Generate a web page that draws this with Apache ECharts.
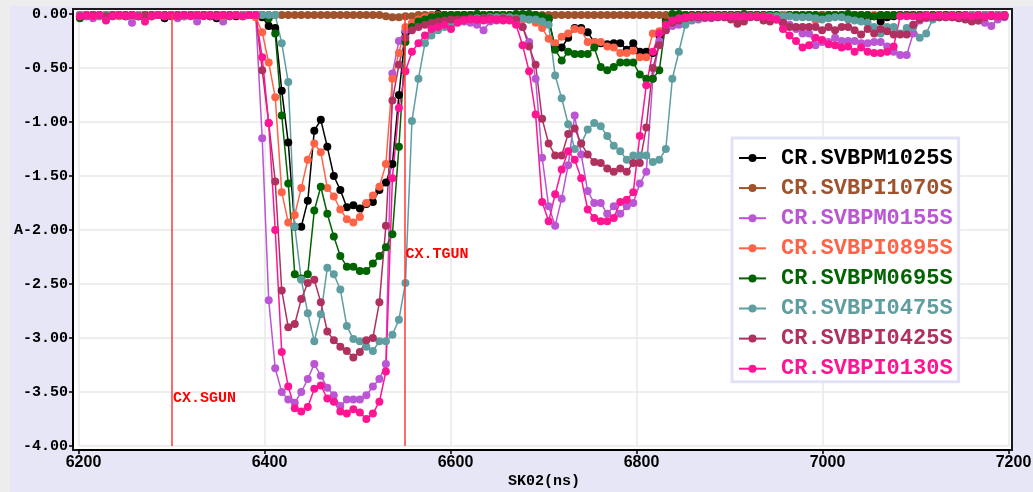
<!DOCTYPE html>
<html>
<head>
<meta charset="utf-8">
<title>SK02 BPM signals</title>
<script src="https://cdn.jsdelivr.net/npm/echarts@6/dist/echarts.min.js"></script>
<style>
  html, body { margin: 0; padding: 0; background: #EDEDED; }
  #chart { width: 1033px; height: 492px; }
</style>
</head>
<body>
<div id="chart"></div>
<script>
// Sample times (ns), shared by every channel
const times = [
  6201, 6208, 6215, 6222, 6229, 6236, 6243, 6250, 6257, 6264,
  6271, 6278, 6285, 6292, 6299, 6306, 6313, 6320, 6327, 6334,
  6341, 6348, 6355, 6362, 6369, 6376, 6383, 6390, 6397, 6404,
  6411, 6418, 6425, 6432, 6439, 6446, 6453, 6460, 6467, 6474,
  6481, 6488, 6495, 6502, 6509, 6516, 6523, 6530, 6537, 6544,
  6551, 6558, 6565, 6572, 6579, 6586, 6593, 6600, 6607, 6614,
  6621, 6628, 6635, 6642, 6649, 6656, 6663, 6670, 6677, 6684,
  6691, 6698, 6705, 6712, 6719, 6726, 6733, 6740, 6747, 6754,
  6761, 6768, 6775, 6782, 6789, 6796, 6803, 6810, 6817, 6824,
  6831, 6838, 6845, 6852, 6859, 6866, 6873, 6880, 6887, 6894,
  6901, 6908, 6915, 6922, 6929, 6936, 6943, 6950, 6957, 6964,
  6971, 6978, 6985, 6992, 6999, 7006, 7013, 7020, 7027, 7034,
  7041, 7048, 7055, 7062, 7069, 7076, 7083, 7090, 7097, 7104,
  7111, 7118, 7125, 7132, 7139, 7146, 7153, 7160, 7167, 7174,
  7181, 7188, 7195
];

const svbpm1025 = [
  -0.01,-0.02,-0.01,-0.01,-0.02,-0.01,-0.01,-0.02,-0.01,-0.01,
  -0.01,-0.02,-0.01,-0.04,-0.01,-0.02,-0.01,-0.01,-0.02,-0.01,
  -0.02,-0.04,-0.01,-0.01,-0.02,-0.01,-0.01,-0.01,-0.03,-0.11,
  -0.13,-0.71,-1.19,-1.97,-1.97,-1.73,-1.08,-0.98,-1.23,-1.50,
  -1.63,-1.79,-1.77,-1.80,-1.76,-1.74,-1.63,-1.56,-1.39,-0.75,
  -0.17,-0.10,-0.06,-0.03,-0.02,0.00,-0.01,-0.02,-0.01,-0.01,
  -0.01,-0.01,-0.02,-0.01,-0.01,-0.01,-0.02,-0.01,-0.01,-0.02,
  -0.02,-0.03,-0.05,-0.31,-0.31,-0.22,-0.13,-0.13,-0.17,-0.26,
  -0.27,-0.28,-0.27,-0.27,-0.33,-0.27,-0.35,-0.35,-0.36,-0.20,
  -0.06,-0.02,-0.01,-0.01,-0.01,-0.02,-0.01,-0.01,-0.01,-0.01,
  -0.01,-0.01,-0.02,-0.01,-0.01,-0.01,-0.01,-0.02,-0.01,-0.01,
  -0.01,-0.01,-0.01,-0.02,-0.01,-0.01,-0.01,-0.01,-0.02,-0.02,
  -0.02,-0.04,-0.02,-0.07,-0.03,-0.02,-0.01,-0.01,-0.01,-0.01,
  -0.01,-0.01,-0.01,-0.01,-0.01,-0.02,-0.02,-0.03,-0.01,-0.01,
  -0.01,-0.01,-0.01
];

const svbpi1070 = [
  -0.01,-0.01,-0.01,-0.01,-0.01,-0.01,-0.01,-0.01,-0.01,-0.01,
  -0.01,-0.01,-0.01,-0.01,-0.01,-0.01,-0.01,-0.01,-0.01,-0.01,
  -0.01,-0.01,-0.01,-0.01,-0.01,-0.01,-0.01,-0.01,-0.01,-0.01,
  -0.01,-0.01,-0.01,-0.01,-0.01,-0.01,-0.01,-0.01,-0.01,-0.01,
  -0.01,-0.01,-0.01,-0.01,-0.01,-0.01,-0.01,-0.02,-0.03,-0.03,
  -0.02,-0.02,-0.01,-0.01,-0.01,-0.01,-0.01,-0.01,-0.01,-0.01,
  -0.01,-0.01,-0.01,-0.01,-0.01,-0.01,-0.01,-0.01,-0.01,-0.01,
  -0.01,-0.01,-0.01,-0.01,-0.01,-0.01,-0.01,-0.01,-0.01,-0.01,
  -0.01,-0.01,-0.01,-0.01,-0.01,-0.01,-0.01,-0.01,-0.01,-0.01,
  -0.01,-0.01,-0.01,-0.01,-0.01,-0.01,-0.01,-0.01,-0.01,-0.01,
  -0.01,-0.01,-0.01,-0.01,-0.01,-0.01,-0.01,-0.01,-0.01,-0.01,
  -0.01,-0.01,-0.01,-0.01,-0.01,-0.01,-0.01,-0.01,-0.01,-0.01,
  -0.01,-0.01,-0.01,-0.01,-0.01,-0.01,-0.01,-0.01,-0.01,-0.01,
  -0.01,-0.01,-0.01,-0.01,-0.01,-0.01,-0.01,-0.01,-0.01,-0.01,
  -0.01,-0.01,-0.01
];

const svbpm0155 = [
  -0.01,-0.02,-0.04,-0.01,-0.01,-0.02,-0.01,-0.01,-0.08,-0.01,
  -0.02,-0.01,-0.01,-0.02,-0.01,-0.04,-0.01,-0.01,-0.07,-0.01,
  -0.01,-0.02,-0.07,-0.01,-0.01,-0.02,-0.01,-0.01,-1.15,-2.65,
  -3.28,-3.50,-3.57,-3.60,-3.50,-3.38,-3.24,-3.35,-3.46,-3.53,
  -3.63,-3.57,-3.57,-3.57,-3.53,-3.45,-3.38,-3.24,-0.55,-0.25,
  -0.15,-0.12,-0.10,-0.08,-0.07,-0.08,-0.06,-0.09,-0.06,-0.07,
  -0.08,-0.10,-0.15,-0.07,-0.06,-0.05,-0.05,-0.08,-0.12,-0.26,
  -0.60,-1.33,-1.78,-1.96,-1.71,-1.40,-0.94,-1.30,-1.64,-1.75,
  -1.75,-1.85,-1.78,-1.85,-1.78,-1.75,-1.57,-1.46,-0.60,-0.25,
  -0.15,-0.11,-0.10,-0.08,-0.06,-0.05,-0.04,-0.04,-0.03,-0.03,
  -0.03,-0.03,-0.03,-0.02,-0.02,-0.03,-0.03,-0.04,-0.06,-0.10,
  -0.14,-0.18,-0.18,-0.29,-0.26,-0.26,-0.22,-0.25,-0.25,-0.25,
  -0.27,-0.27,-0.26,-0.26,-0.30,-0.35,-0.38,-0.38,-0.18,-0.06,
  -0.04,-0.03,-0.03,-0.03,-0.03,-0.04,-0.04,-0.05,-0.06,-0.08,
  -0.11,-0.05,-0.03
];

const svbpi0895 = [
  -0.01,-0.01,-0.02,-0.01,-0.01,-0.01,-0.02,-0.01,-0.01,-0.01,
  -0.01,-0.02,-0.01,-0.01,-0.01,-0.01,-0.02,-0.01,-0.01,-0.01,
  -0.01,-0.01,-0.02,-0.01,-0.01,-0.01,-0.01,-0.03,-0.17,-0.45,
  -0.77,-1.65,-1.93,-1.86,-1.61,-1.35,-1.20,-1.28,-1.61,-1.69,
  -1.81,-1.90,-1.93,-1.88,-1.75,-1.68,-1.60,-1.39,-0.60,-0.36,
  -0.12,-0.08,-0.05,-0.03,-0.02,-0.02,-0.01,-0.01,-0.01,-0.02,
  -0.01,-0.01,-0.01,-0.02,-0.01,-0.01,-0.02,-0.03,-0.05,-0.05,
  -0.08,-0.13,-0.23,-0.27,-0.21,-0.18,-0.14,-0.15,-0.26,-0.26,
  -0.26,-0.30,-0.31,-0.36,-0.36,-0.34,-0.40,-0.40,-0.18,-0.16,
  -0.08,-0.04,-0.02,-0.01,-0.01,-0.01,-0.01,-0.01,-0.01,-0.01,
  -0.01,-0.01,-0.01,-0.01,-0.01,-0.01,-0.01,-0.01,-0.01,-0.01,
  -0.01,-0.01,-0.02,-0.06,-0.02,-0.01,-0.01,-0.01,-0.01,-0.01,
  -0.01,-0.01,-0.01,-0.01,-0.01,-0.01,-0.01,-0.01,-0.01,-0.01,
  -0.01,-0.01,-0.01,-0.01,-0.01,-0.01,-0.01,-0.01,-0.01,-0.01,
  -0.01,-0.01,-0.01
];

const svbpm0695 = [
  -0.04,-0.01,-0.01,-0.02,-0.01,-0.01,-0.01,-0.01,-0.01,-0.02,
  -0.01,-0.01,-0.01,-0.01,-0.01,-0.01,-0.02,-0.01,-0.01,-0.01,
  -0.01,-0.01,-0.01,-0.02,-0.01,-0.01,-0.01,-0.01,-0.01,-0.04,
  -0.18,-0.94,-1.57,-2.41,-2.45,-2.41,-1.82,-1.60,-1.85,-2.06,
  -2.24,-2.34,-2.34,-2.38,-2.38,-2.31,-2.24,-2.16,-2.04,-1.23,
  -0.26,-0.12,-0.07,-0.05,-0.03,-0.02,-0.01,-0.01,-0.01,-0.01,
  -0.01,0.00,-0.01,-0.01,-0.01,-0.01,-0.01,0.00,0.00,0.00,
  -0.01,-0.02,-0.04,-0.33,-0.43,-0.35,-0.37,-0.37,-0.37,-0.31,
  -0.49,-0.52,-0.49,-0.45,-0.45,-0.45,-0.56,-0.60,-0.60,-0.52,
  -0.08,0.00,0.00,-0.01,-0.01,-0.01,-0.01,-0.01,-0.01,-0.01,
  -0.01,-0.01,0.00,-0.01,-0.01,-0.01,-0.01,-0.01,-0.02,-0.01,
  -0.01,-0.01,-0.01,-0.01,-0.02,-0.01,-0.01,-0.01,0.00,-0.01,
  -0.01,-0.01,-0.02,-0.01,-0.01,-0.01,-0.01,-0.01,-0.01,-0.01,
  -0.01,-0.01,-0.01,-0.01,-0.01,-0.01,-0.01,-0.01,-0.01,-0.01,
  -0.01,-0.01,-0.01
];

const svbpi0475 = [
  -0.01,-0.01,-0.01,-0.02,-0.01,-0.01,-0.01,-0.01,-0.02,-0.01,
  -0.01,-0.01,-0.01,-0.01,-0.01,-0.01,-0.02,-0.01,-0.01,-0.01,
  -0.01,-0.02,-0.01,-0.01,-0.01,-0.01,-0.01,-0.01,-0.01,-0.01,
  -0.01,-0.27,-0.63,-1.97,-2.46,-2.77,-3.03,-2.78,-2.35,-2.41,
  -2.55,-2.89,-3.01,-3.03,-3.08,-3.12,-3.03,-3.03,-2.97,-2.83,
  -2.49,-0.99,-0.60,-0.27,-0.20,-0.15,-0.12,-0.09,-0.07,-0.06,
  -0.05,-0.04,-0.04,-0.03,-0.03,-0.03,-0.03,-0.04,-0.04,-0.05,
  -0.05,-0.07,-0.10,-0.57,-0.78,-1.02,-1.25,-1.20,-1.07,-1.01,
  -1.04,-1.13,-1.22,-1.27,-1.35,-1.31,-1.31,-1.31,-1.37,-1.35,
  -1.25,-0.60,-0.35,-0.10,-0.05,-0.04,-0.03,-0.02,-0.02,-0.02,
  -0.02,-0.02,-0.02,-0.02,-0.02,-0.02,-0.02,-0.02,-0.02,-0.02,
  -0.03,-0.03,-0.03,-0.04,-0.05,-0.04,-0.03,-0.03,-0.05,-0.06,
  -0.07,-0.08,-0.12,-0.18,-0.12,-0.12,-0.18,-0.13,-0.12,-0.22,
  -0.18,-0.05,-0.03,-0.02,-0.02,-0.02,-0.01,-0.01,-0.01,-0.01,
  -0.01,-0.01,-0.01
];

const svbpi0425 = [
  -0.02,-0.01,-0.01,-0.01,-0.02,-0.01,-0.01,-0.01,-0.01,-0.02,
  -0.01,-0.01,-0.01,-0.01,-0.02,-0.01,-0.01,-0.01,-0.01,-0.01,
  -0.02,-0.01,-0.01,-0.01,-0.01,-0.02,-0.01,-0.01,-0.52,-1.01,
  -1.55,-2.56,-2.90,-2.87,-2.64,-2.49,-2.46,-2.67,-2.94,-3.02,
  -3.08,-3.12,-3.18,-3.13,-3.02,-3.00,-2.67,-1.96,-0.80,-0.47,
  -0.22,-0.15,-0.12,-0.10,-0.08,-0.07,-0.06,-0.05,-0.05,-0.05,
  -0.04,-0.05,-0.04,-0.04,-0.05,-0.04,-0.05,-0.05,-0.12,-0.30,
  -0.47,-0.97,-1.20,-1.31,-1.31,-1.11,-1.06,-1.20,-1.30,-1.37,
  -1.38,-1.43,-1.46,-1.43,-1.46,-1.38,-1.38,-1.05,-0.50,-0.29,
  -0.15,-0.08,-0.06,-0.04,-0.03,-0.03,-0.03,-0.03,-0.03,-0.03,
  -0.05,-0.09,-0.07,-0.03,-0.03,-0.06,-0.07,-0.05,-0.08,-0.12,
  -0.12,-0.12,-0.12,-0.12,-0.15,-0.12,-0.15,-0.12,-0.12,-0.15,
  -0.19,-0.14,-0.18,-0.14,-0.16,-0.19,-0.19,-0.19,-0.10,-0.05,
  -0.03,-0.03,-0.03,-0.03,-0.03,-0.04,-0.05,-0.07,-0.06,-0.03,
  -0.02,-0.02,-0.02
];

const svbpi0130 = [
  -0.02,-0.01,-0.02,-0.01,-0.06,-0.02,-0.01,-0.02,-0.01,-0.02,
  -0.07,-0.02,-0.01,-0.02,-0.01,-0.02,-0.01,-0.02,-0.01,-0.02,
  -0.01,-0.02,-0.01,-0.02,-0.01,-0.02,-0.01,-0.01,-0.40,-1.01,
  -2.00,-3.13,-3.45,-3.65,-3.68,-3.64,-3.47,-3.44,-3.56,-3.59,
  -3.68,-3.70,-3.66,-3.69,-3.75,-3.70,-3.59,-3.31,-1.52,-0.87,
  -0.53,-0.35,-0.27,-0.20,-0.14,-0.12,-0.10,-0.14,-0.08,-0.06,
  -0.05,-0.05,-0.06,-0.05,-0.05,-0.06,-0.06,-0.10,-0.29,-0.53,
  -0.93,-1.74,-1.92,-1.67,-1.44,-1.27,-1.35,-1.52,-1.81,-1.89,
  -1.92,-1.92,-1.89,-1.74,-1.72,-1.65,-1.13,-0.66,-0.35,-0.18,
  -0.10,-0.06,-0.04,-0.03,-0.02,-0.02,-0.02,-0.02,-0.02,-0.02,
  -0.02,-0.02,-0.02,-0.02,-0.02,-0.02,-0.03,-0.05,-0.14,-0.20,
  -0.25,-0.31,-0.29,-0.22,-0.24,-0.28,-0.29,-0.31,-0.30,-0.35,
  -0.31,-0.35,-0.36,-0.36,-0.35,-0.30,-0.02,-0.02,-0.02,-0.02,
  -0.01,-0.02,-0.01,-0.02,-0.01,-0.02,-0.01,-0.02,-0.01,-0.02,
  -0.01,-0.02,-0.01
];

const channelNames = [
  'CR.SVBPM1025S', 'CR.SVBPI1070S', 'CR.SVBPM0155S', 'CR.SVBPI0895S',
  'CR.SVBPM0695S', 'CR.SVBPI0475S', 'CR.SVBPI0425S', 'CR.SVBPI0130S'
];
const channelValues = [
  svbpm1025, svbpi1070, svbpm0155, svbpi0895,
  svbpm0695, svbpi0475, svbpi0425, svbpi0130
];

// Timing markers and the level their captions sit at
const markerNames = ['CX.SGUN', 'CX.TGUN'];
const markerTimes = [6300, 6550];
const markerLabelLevels = [-3.556, -2.22];

const xTicks = { min: 6200, max: 7200, step: 200 };
const yTicks = { min: -4, max: 0, step: 0.5 };

// ---- styling ----
const palette = ['#000000', '#A0522D', '#BA55D3', '#FF6347',
                 '#006400', '#5F9EA0', '#B03060', '#FF1493'];
const markerColor = '#FF3A3A';
const monoFont = '"Liberation Mono", "DejaVu Sans Mono", monospace';
const sansFont = '"Liberation Sans", Arial, sans-serif';

const series = channelNames.map((name, k) => ({
  type: 'line',
  name: name,
  data: times.map((t, i) => [t, channelValues[k][i]]),
  symbol: 'circle',
  symbolSize: 8,
  showSymbol: true,
  clip: false,
  lineStyle: { color: palette[k], width: 1.5 },
  itemStyle: { color: palette[k], borderWidth: 0 },
  emphasis: { disabled: true },
  animation: false
}));

// Marker lines and their captions ride on the last series so they sit on top
series[series.length - 1].markLine = {
  silent: true,
  symbol: ['none', 'none'],
  lineStyle: { color: markerColor, width: 1.5, type: 'solid' },
  label: { show: false },
  data: markerTimes.map(t => ({ xAxis: t }))
};
series[series.length - 1].markPoint = {
  silent: true,
  symbol: 'circle',
  symbolSize: 0,
  data: markerNames.map((n, k) => ({ name: n, coord: [markerTimes[k], markerLabelLevels[k]] })),
  label: {
    show: true,
    position: 'right',
    distance: 1,
    formatter: '{b}',
    color: '#FF0000',
    fontFamily: monoFont,
    fontWeight: 'bold',
    fontSize: 15
  }
};

const chart = echarts.init(document.getElementById('chart'), null, { renderer: 'canvas' });

chart.setOption({
  animation: false,
  backgroundColor: '#E6E6F6',
  graphic: [
    { type: 'rect', shape: { x: 0, y: 0, width: 10, height: 492 }, style: { fill: '#EDEDED' }, silent: true, z: -10 },
    { type: 'rect', shape: { x: 0, y: 0, width: 1033, height: 6 }, style: { fill: '#EDEDED' }, silent: true, z: -10 }
  ],
  grid: [
    {
      left: 79, right: 24, top: 14, bottom: 46,
      containLabel: false, outerBoundsMode: 'none'
    },
    {
      // framed plotting panel
      show: true, z: -1,
      left: 73, right: 21, top: 9, bottom: 42,
      backgroundColor: '#FFFFFF',
      borderColor: '#1A1A1A', borderWidth: 2,
      containLabel: false, outerBoundsMode: 'none'
    }
  ],
  legend: {
    orient: 'vertical',
    left: 732,
    top: 138,
    padding: [9, 6, 2, 6],
    itemGap: 8.1,
    itemWidth: 27,
    itemHeight: 10,
    backgroundColor: '#FFFFFF',
    borderColor: '#E2E2F6',
    borderWidth: 3,
    selectedMode: false,
    data: channelNames.map((n, k) => ({ name: n, textStyle: { color: palette[k] } })),
    textStyle: {
      fontFamily: monoFont,
      fontWeight: 'bold',
      fontSize: 22,
      lineHeight: 22,
      padding: [0, 0, 0, 10]
    }
  },
  xAxis: [
    {
      type: 'value',
      gridIndex: 0,
      min: xTicks.min, max: xTicks.max, interval: xTicks.step,
      offset: 4,
      name: 'SK02(ns)',
      nameLocation: 'middle',
      nameGap: 24,
      nameMoveOverlap: false,
      nameTextStyle: { color: '#000', fontFamily: monoFont, fontWeight: 'bold', fontSize: 15 },
      axisLine: { show: true, onZero: false, lineStyle: { color: '#000', width: 2 } },
      axisTick: { show: true, length: 4, lineStyle: { color: '#000', width: 1.5 } },
      axisLabel: {
        color: '#000', fontFamily: sansFont, fontWeight: 'bold', fontSize: 16,
        margin: 5, padding: [0, 0, 0, 9], hideOverlap: false,
        formatter: v => String(v)
      },
      splitLine: { show: true, lineStyle: { color: '#E8E8E8', width: 1.5 } },
      minorTick: { show: false }
    },
    { type: 'value', gridIndex: 1, show: false, min: 0, max: 1 }
  ],
  yAxis: [
    {
      type: 'value',
      gridIndex: 0,
      min: yTicks.min, max: yTicks.max, interval: yTicks.step,
      offset: 6,
      name: 'A',
      nameLocation: 'middle',
      nameRotate: 0,
      nameGap: 50,
      nameMoveOverlap: false,
      nameTextStyle: { color: '#000', fontFamily: monoFont, fontWeight: 'bold', fontSize: 15 },
      axisLine: { show: true, onZero: false, lineStyle: { color: '#000', width: 2 } },
      axisTick: { show: true, length: 4, lineStyle: { color: '#000', width: 1.5 } },
      axisLabel: {
        color: '#000', fontFamily: monoFont, fontWeight: 'bold', fontSize: 15,
        margin: 5, hideOverlap: false,
        formatter: v => v.toFixed(2)
      },
      splitLine: { show: true, lineStyle: { color: '#E8E8E8', width: 1.5 } }
    },
    { type: 'value', gridIndex: 1, show: false, min: 0, max: 1 }
  ],
  series: series
});
</script>
</body>
</html>
